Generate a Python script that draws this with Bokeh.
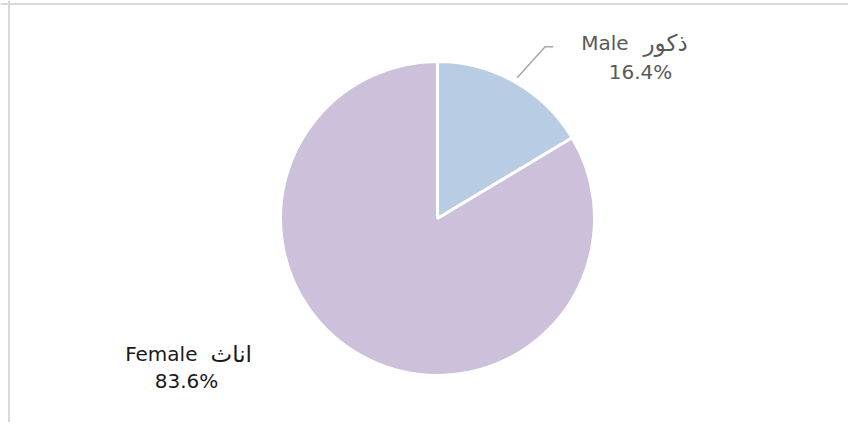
import math
from bokeh.plotting import figure
from bokeh.models import Span
from bokeh.embed import file_html
from bokeh.resources import INLINE
from bokeh.core.properties import value

# ---- data ----
names_en = ["Male", "Female"]
names_ar = ["ذكور", "اناث"]
shares = [16.4, 83.6]
pct_labels = ["16.4%", "83.6%"]
colors = ["#B8CCE4", "#CCC0DA"]
text_colors = ["#595959", "#1A1A1A"]

W, H = 848, 422
R_PX = 157.0
CX, CY = 437.0, 218.0  # pie centre in figure pixels (from top-left)

p = figure(width=W, height=H, output_backend="svg", toolbar_location=None,
           x_range=(-CX / R_PX, (W - CX) / R_PX),
           y_range=(-(H - CY) / R_PX, CY / R_PX),
           min_border=0)
p.axis.visible = False
p.grid.visible = False
p.outline_line_color = None
p.background_fill_color = "white"
p.border_fill_color = "white"

total = sum(shares)
starts, ends, mids = [], [], []
cum = 0.0
for s in shares:
    a0 = math.pi / 2 - cum / total * 2 * math.pi
    cum += s
    a1 = math.pi / 2 - cum / total * 2 * math.pi
    starts.append(a0)
    ends.append(a1)
    mids.append((a0 + a1) / 2)

p.wedge(x=[0] * len(shares), y=[0] * len(shares), radius=1.0,
        start_angle=starts, end_angle=ends, direction="clock",
        fill_color=colors, line_color="white", line_width=3)

font = value("DejaVu Sans")
# label layout (pie-radius units): en right edge, ar left edge, pct centre, line1 y, line2 y
label_pos = [(1.217, 1.312, 1.293, 1.115, 0.936),
             (-1.529, -1.446, -1.599, -0.860, -1.038)]
for i in range(len(shares)):
    xe, xa, xp, y1, y2 = label_pos[i]
    p.text(x=[xe], y=[y1], text=[names_en[i]], text_font=font,
           text_font_size="20px", text_color=text_colors[i],
           text_align="right", text_baseline="middle")
    p.text(x=[xa], y=[y1], text=[names_ar[i]], text_font=font,
           text_font_size="23px", text_color=text_colors[i],
           text_align="left", text_baseline="middle")
    p.text(x=[xp], y=[y2], text=[pct_labels[i]], text_font=font,
           text_font_size="20px", text_color=text_colors[i],
           text_align="center", text_baseline="middle")

# leader line for the small slice
m = mids[0]
x0, y0 = 1.03 * math.cos(m), 1.03 * math.sin(m)
p.line(x=[x0, x0 + 0.178, x0 + 0.229], y=[y0, y0 + 0.197, y0 + 0.197],
       line_color="#A6A6A6", line_width=1.5)

# chart frame (top & left visible)
p.add_layout(Span(location=(CY - 3.5) / R_PX, dimension="width",
                  line_color="#D9D9D9", line_width=2))
p.add_layout(Span(location=-(CX - 8.5) / R_PX, dimension="height",
                  line_color="#D9D9D9", line_width=2))

open("out.html", "w").write(file_html(p, INLINE))
